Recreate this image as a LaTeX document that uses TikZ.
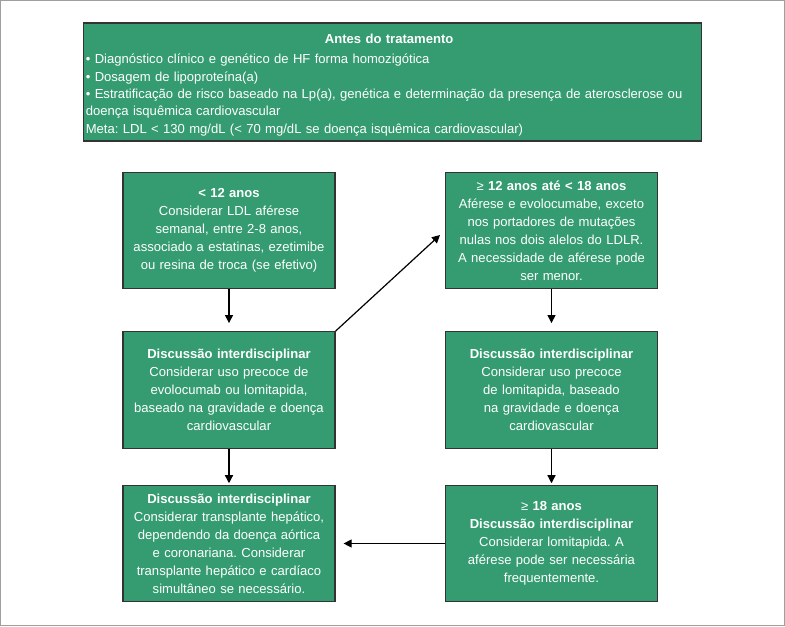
\documentclass[tikz,border=0pt]{standalone}
\usepackage{fontspec}
\setmainfont{Liberation Sans}
\usetikzlibrary{arrows.meta}
\frenchspacing
\definecolor{boxgreen}{RGB}{52,156,112}
\tikzset{
    greenbox/.style={
        rectangle,
        draw=black!80,
        line width=0.9pt,
        fill=boxgreen,
        text=white,
        minimum width=159pt,
        minimum height=87.5pt,
        text width=155pt,
        align=center,
        inner sep=0pt,
        font=\fontsize{9.8}{13.5}\selectfont
    },
    headbox/.style={
        greenbox,
        minimum width=464pt,
        minimum height=88.5pt,
        text width=460pt,
        align=left,
        font=\fontsize{9.8}{13}\selectfont
    },
    arrow/.style={
        -{Triangle[length=6pt,width=6pt]},
        line width=0.9pt,
        shorten >=#1
    },
    arrow/.default=6pt
}

\begin{document}
\begin{tikzpicture}[x=0.75pt, y=-0.75pt]
    \useasboundingbox (0,0) rectangle (785,626);
    \draw[gray!75, line width=1.1pt] (0.75,0.75) rectangle (784.25,625.25);

    \node[headbox]  (pre)       at (392.5,82)   {\makebox[455pt]{\rule{0pt}{12pt}\bfseries Antes do tratamento}\\[2pt]
        • Diagnóstico clínico e genético de HF forma homozigótica\\
        • Dosagem de lipoproteína(a)\\
        • Estratificação de risco baseado na Lp(a), genética e determinação da presença de aterosclerose ou\\
        doença isquêmica cardiovascular\\
        Meta: LDL < 130 mg/dL (< 70 mg/dL se doença isquêmica cardiovascular)};
    \node[greenbox] (young)     at (229,230.5)   {\textbf{< 12 anos}\\Considerar LDL aférese\\semanal, entre 2-8 anos,\\associado a estatinas, ezetimibe\\ou resina de troca (se efetivo)};
    \node[greenbox] (teen)      at (551.5,230.5) {≥ \textbf{12 anos até < 18 anos}\\Aférese e evolocumabe, exceto\\nos portadores de mutações\\nulas nos dois alelos do LDLR.\\A necessidade de aférese pode\\ser menor.};
    \node[greenbox] (youngdisc) at (229,390)     {\textbf{Discussão interdisciplinar}\\Considerar uso precoce de\\evolocumab ou lomitapida,\\baseado na gravidade e doença\\cardiovascular};
    \node[greenbox] (teendisc)  at (551.5,390)   {\textbf{Discussão interdisciplinar}\\Considerar uso precoce\\de lomitapida, baseado\\na gravidade e doença\\cardiovascular};
    \node[greenbox] (transpl)   at (229,543.5)   {\textbf{Discussão interdisciplinar}\\Considerar transplante hepático,\\dependendo da doença aórtica\\e coronariana. Considerar\\transplante hepático e cardíaco\\simultâneo se necessário.};
    \node[greenbox] (adult)     at (551.5,543.5) {≥ \textbf{18 anos}\\\textbf{Discussão interdisciplinar}\\Considerar lomitapida. A\\aférese pode ser necessária\\frequentemente.};

    \draw[arrow=6pt] (young)     -- (youngdisc);
    \draw[arrow=1pt] (youngdisc) -- (transpl);
    \draw[arrow=6pt] (teen)      -- (teendisc);
    \draw[arrow=1pt] (teendisc)  -- (adult);
    \draw[arrow=6pt] (adult)     -- (transpl);
    \draw[arrow=5pt] (youngdisc.north east) -- (teen.west);
\end{tikzpicture}
\end{document}
